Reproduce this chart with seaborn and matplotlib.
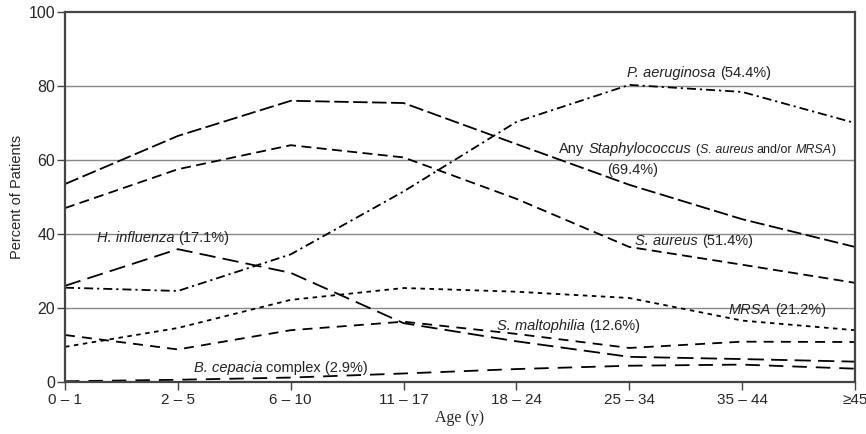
import matplotlib
matplotlib.use("Agg")
import matplotlib.pyplot as plt
import seaborn as sns
import pandas as pd

categories = ['0 – 1', '2 – 5', '6 – 10', '11 – 17', '18 – 24', '25 – 34', '35 – 44', '≥45']
any_staph = [53.5, 66.5, 76.0, 75.4, 64.3, 53.3, 44.0, 36.5]
s_aureus = [47.0, 57.5, 64.0, 60.7, 49.5, 36.5, 31.7, 26.8]
p_aeruginosa = [25.5, 24.6, 34.5, 51.5, 70.3, 80.3, 78.4, 70.0]
h_influenza = [26.0, 35.9, 29.5, 15.9, 11.0, 6.8, 6.2, 5.5]
mrsa = [9.5, 14.6, 22.2, 25.4, 24.4, 22.7, 16.6, 14.0]
s_maltophilia = [12.7, 8.8, 14.0, 16.3, 13.0, 9.2, 10.9, 10.8]
b_cepacia = [0.2, 0.6, 1.2, 2.3, 3.5, 4.4, 4.7, 3.6]

series = {
    'Any Staphylococcus': any_staph,
    'S. aureus': s_aureus,
    'P. aeruginosa': p_aeruginosa,
    'H. influenza': h_influenza,
    'MRSA': mrsa,
    'S. maltophilia': s_maltophilia,
    'B. cepacia': b_cepacia,
}

rows = []
for name, vals in series.items():
    for i, v in enumerate(vals):
        rows.append({'organism': name, 'pos': i, 'value': v})
df = pd.DataFrame(rows)

dashes = {
    'Any Staphylococcus': (8, 2.5),
    'S. aureus': (5.5, 3),
    'P. aeruginosa': (5, 2.2, 1.2, 2.2),
    'H. influenza': (9, 4),
    'MRSA': (2.5, 2.5),
    'S. maltophilia': (5.5, 4),
    'B. cepacia': (8, 5),
}

sns.set_style("white")
plt.rcParams['font.family'] = ['Liberation Sans', 'DejaVu Sans']

fig = plt.figure(figsize=(8.66, 4.34), dpi=100)
ax = fig.add_axes([65/866, 52/434, 790/866, 370/434])

sns.lineplot(data=df, x='pos', y='value', style='organism', dashes=dashes,
             color='black', linewidth=1.3, legend=False, ax=ax)

ax.set_xlim(0, 7)
ax.set_ylim(0, 100)
ax.set_xticks(range(len(categories)))
ax.set_xticklabels(categories, fontsize=11)
ax.set_yticks([0, 20, 40, 60, 80, 100])
ax.tick_params(axis='y', labelsize=11.5, length=6, width=1, color='#444444', direction='out', pad=1, left=True)
ax.tick_params(axis='x', length=6, width=1, color='#444444', direction='out', pad=2, bottom=True)
for y in [20, 40, 60, 80]:
    ax.axhline(y, color='#888888', linewidth=1.0, zorder=0)
for s in ax.spines.values():
    s.set_visible(True)
    s.set_color('#444444')
    s.set_linewidth(1.6)

ax.set_ylabel('Percent of Patients', fontsize=10.5)
ax.yaxis.set_label_coords(-0.052, 0.5)
ax.set_xlabel('Age (y)', fontsize=11.5, family='Liberation Serif', labelpad=2)


def rich(x, y, parts, size=10.5):
    prev = None
    for text, style, sz, gap in parts:
        fs = sz if sz else size
        if prev is None:
            prev = ax.text(x, y, text, style=style, fontsize=fs, va='center', ha='left', color='#222222')
        else:
            prev = ax.annotate(text, xy=(1, 0), xycoords=prev, xytext=(gap, 0),
                               textcoords='offset points', style=style, fontsize=fs,
                               va='bottom', ha='left', color='#222222')
    return prev


rich(4.98, 83.4, [('P. aeruginosa', 'italic', None, 0), ('(54.4%)', 'normal', None, 3)])
rich(4.38, 63.0, [('Any', 'normal', None, 0), ('Staphylococcus', 'italic', None, 3),
                  ('(', 'normal', 9, 3), ('S. aureus', 'italic', 9, 0),
                  ('and/or', 'normal', 9, 2.5), ('MRSA', 'italic', 9, 2.5), (')', 'normal', 9, 0)])
rich(4.80, 57.3, [('(69.4%)', 'normal', None, 0)])
rich(5.05, 38.1, [('S. aureus', 'italic', None, 0), ('(51.4%)', 'normal', None, 3)])
rich(0.28, 38.9, [('H. influenza', 'italic', None, 0), ('(17.1%)', 'normal', None, 3)])
rich(5.88, 19.5, [('MRSA', 'italic', None, 0), ('(21.2%)', 'normal', None, 3)])
rich(3.83, 15.1, [('S. maltophilia', 'italic', None, 0), ('(12.6%)', 'normal', None, 3)])
rich(1.14, 3.9, [('B. cepacia', 'italic', None, 0), ('complex (2.9%)', 'normal', None, 3)])

fig.savefig('out.png', dpi=100)
